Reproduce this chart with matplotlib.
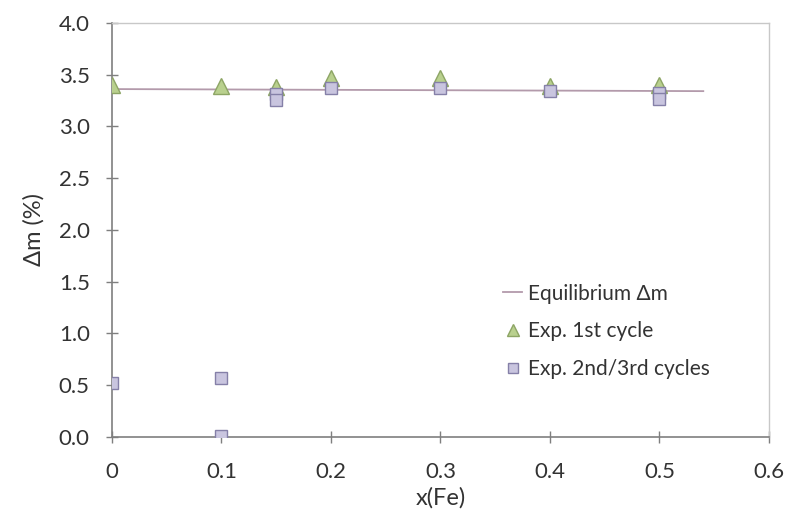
import matplotlib.pyplot as plt

plt.rcParams["font.family"] = ["Lato", "DejaVu Sans"]

# Equilibrium mass change line
eq_x = [0.0, 0.54]
eq_y = [3.36, 3.34]

# Exp. 1st cycle
first_x = [0.0, 0.1, 0.15, 0.2, 0.3, 0.4, 0.5]
first_y = [3.40, 3.39, 3.38, 3.47, 3.47, 3.39, 3.40]

# Exp. 2nd/3rd cycles
later_x = [0.0, 0.1, 0.1, 0.15, 0.15, 0.2, 0.3, 0.4, 0.5, 0.5]
later_y = [0.52, 0.57, 0.01, 3.31, 3.25, 3.37, 3.37, 3.34, 3.32, 3.26]

xticks = [0, 0.1, 0.2, 0.3, 0.4, 0.5, 0.6]
xticklabels = ["0", "0.1", "0.2", "0.3", "0.4", "0.5", "0.6"]
yticks = [0.0, 0.5, 1.0, 1.5, 2.0, 2.5, 3.0, 3.5, 4.0]

fig = plt.figure(figsize=(7.87, 5.18), dpi=100)
ax = fig.add_axes([0.1423, 0.1564, 0.8348, 0.7996])

ax.plot(eq_x, eq_y, color="#b39aab", lw=1.3, label="Equilibrium \u0394m", zorder=2)
ax.plot(first_x, first_y, ls="none", marker="^", ms=12, mfc="#b9d08e",
        mec="#8da565", mew=1.0, label="Exp. 1st cycle", zorder=3)
ax.plot(later_x, later_y, ls="none", marker="s", ms=9, mfc="#c9c5df",
        mec="#8580a8", mew=1.0, label="Exp. 2nd/3rd cycles", zorder=4)

ax.set_xlim(0, 0.6)
ax.set_ylim(0, 4.0)
ax.set_xticks(xticks)
ax.set_xticklabels(xticklabels)
ax.set_yticks(yticks)
ax.set_yticklabels([f"{v:.1f}" for v in yticks])
ax.tick_params(direction="inout", length=8, width=1, color="#7f7f7f",
               labelsize=16, labelcolor="#333333")
ax.tick_params(axis="y", pad=12)
ax.tick_params(axis="x", pad=14)
ax.set_xlabel("x(Fe)", fontsize=17, color="#333333", labelpad=4)
ax.set_ylabel("\u0394m (%)", fontsize=17, color="#333333", labelpad=10)

for side in ["top", "right"]:
    ax.spines[side].set_color("#c8c8c8")
    ax.spines[side].set_linewidth(1.0)
for side in ["left", "bottom"]:
    ax.spines[side].set_color("#7f7f7f")
    ax.spines[side].set_linewidth(1.2)

ax.legend(loc="upper left", bbox_to_anchor=(0.583, 0.39), frameon=False,
          fontsize=15, handlelength=0.9, handletextpad=0.3, labelspacing=0.85,
          markerscale=0.75, labelcolor="#333333", borderaxespad=0)

fig.savefig("out.png", dpi=100)
